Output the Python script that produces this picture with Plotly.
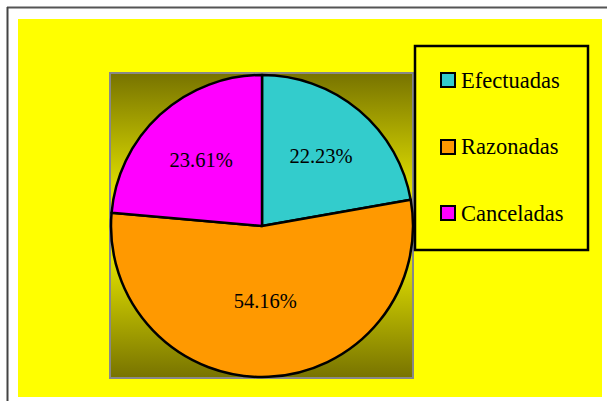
import plotly.graph_objects as go

categories = ["Efectuadas", "Razonadas", "Canceladas"]
values = [22.23, 54.16, 23.61]
colors = ["#33CCCC", "#FF9900", "#FF00FF"]

W, H = 607, 401
def px(x): return x / W
def py(y): return 1 - y / H

FONT = "Liberation Serif, Times New Roman, serif"

fig = go.Figure()

# gradient background square behind the pie
fig.add_trace(go.Scatter(
    x=[0, 1, 1, 0, 0], y=[0, 0, 1, 1, 0],
    mode="lines", fill="toself",
    line=dict(width=0, color="rgba(0,0,0,0)"),
    fillgradient=dict(type="vertical",
                      colorscale=[[0, "#787400"], [0.5, "#ffff00"], [1, "#787400"]]),
    hoverinfo="skip", showlegend=False,
))

fig.add_trace(go.Pie(
    labels=categories, values=values,
    marker=dict(colors=colors, line=dict(color="black", width=2.5)),
    sort=False, direction="clockwise", rotation=0,
    textinfo="percent", texttemplate="%{percent:.2%}",
    textposition="inside", insidetextorientation="horizontal",
    textfont=dict(family=FONT, size=20.5, color="black"),
    domain=dict(x=[px(111), px(413)], y=[py(377), py(75)]),
    showlegend=False, hoverinfo="label+percent",
))

shapes = [
    # yellow chart area
    dict(type="rect", xref="paper", yref="paper", x0=px(18), x1=px(602), y0=py(397), y1=py(19),
         fillcolor="#ffff00", line=dict(width=0), layer="below"),
    # grey border of the plot square
    dict(type="rect", xref="paper", yref="paper", x0=px(109), x1=px(414), y0=py(379), y1=py(72),
         fillcolor="#888888", line=dict(width=0), layer="below"),
    # outer frame lines
    dict(type="line", xref="paper", yref="paper", x0=px(7), x1=1, y0=py(7.5), y1=py(7.5),
         line=dict(color="#555555", width=2)),
    dict(type="line", xref="paper", yref="paper", x0=px(7.5), x1=px(7.5), y0=0, y1=py(7),
         line=dict(color="#444444", width=2)),
    # legend box
    dict(type="rect", xref="paper", yref="paper", x0=px(415), x1=px(588), y0=py(250), y1=py(46),
         fillcolor="#ffff00", line=dict(color="black", width=2.5), layer="above"),
]

annotations = []
item_y = [80, 147, 213]
for i, (cat, col) in enumerate(zip(categories, colors)):
    yc = item_y[i]
    shapes.append(dict(type="rect", xref="paper", yref="paper",
                       x0=px(441), x1=px(455), y0=py(yc + 7), y1=py(yc - 7),
                       fillcolor=col, line=dict(color="black", width=2), layer="above"))
    annotations.append(dict(text=cat, xref="paper", yref="paper", x=px(459), y=py(yc),
                            xanchor="left", yanchor="middle", showarrow=False,
                            font=dict(family=FONT, size=22.5, color="black")))

fig.update_layout(
    width=W, height=H,
    margin=dict(l=0, r=0, t=0, b=0),
    paper_bgcolor="white", plot_bgcolor="rgba(0,0,0,0)",
    xaxis=dict(domain=[px(111), px(412)], range=[0, 1], visible=False, fixedrange=True),
    yaxis=dict(domain=[py(377), py(74)], range=[0, 1], visible=False, fixedrange=True),
    shapes=shapes, annotations=annotations,
    showlegend=False,
)

fig.write_html("out.html", config={"displayModeBar": False},
               post_script="document.body.style.margin='0';document.body.style.overflow='hidden';")
